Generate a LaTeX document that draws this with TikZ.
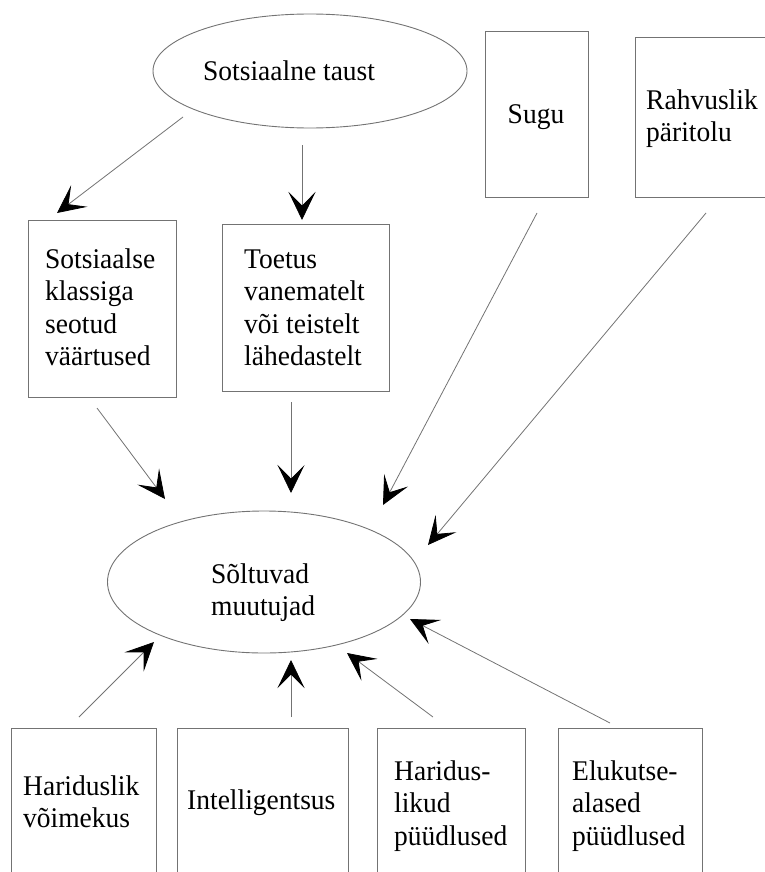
\documentclass[tikz,border=0pt]{standalone}
\usepackage{fontspec}
\setmainfont{Liberation Serif}[FakeStretch=0.965]
\usetikzlibrary{arrows.meta,shapes.geometric}
\tikzset{
  edge/.style={draw=black!55, line width=0.9pt},
  oval/.style={ellipse, edge, inner sep=0pt},
  box/.style={rectangle, edge, inner sep=0pt},
  txt/.style={inner sep=0pt, align=left, font=\fontsize{28.5}{32.5}\selectfont},
  conn/.style={draw=black!55, line width=0.8pt, -{Stealth[length=28pt, width=27pt, inset=13.5pt, black]}}
}
\begin{document}
\begin{tikzpicture}[x=1pt,y=-1pt]
\path[use as bounding box] (0,0) rectangle (765,872);
\clip (0,0) rectangle (765,872);
% shapes
\node[oval, minimum width=314pt, minimum height=114pt] (top) at (310,71) {};
\node[oval, minimum width=313pt, minimum height=142pt] (dep) at (264,582) {};
\node[box, minimum width=103pt, minimum height=166pt] (sugu) at (536.5,114) {};
\node[box, minimum width=175pt, minimum height=160pt] (rahv) at (722.5,117) {};
\node[box, minimum width=148pt, minimum height=177pt] (sots) at (102,308.5) {};
\node[box, minimum width=167pt, minimum height=167pt] (toet) at (305.5,307.5) {};
\node[box, minimum width=145pt, minimum height=172pt] (har) at (83.5,814) {};
\node[box, minimum width=171pt, minimum height=172pt] (int) at (262.5,814) {};
\node[box, minimum width=148pt, minimum height=172pt] (hp) at (451,814) {};
\node[box, minimum width=144pt, minimum height=172pt] (el) at (630,814) {};
% texts
\node[txt, anchor=base west] (ttop) at (203,81) {Sotsiaalne taust};
\node[txt, anchor=base] (tsugu) at (536,124) {Sugu};
\node[txt, anchor=north west] (trahv) at (646,86.25) {\strut Rahvuslik\\päritolu};
\node[txt, anchor=north west] (tsots) at (45,245.25) {\strut Sotsiaalse\\klassiga\\seotud\\väärtused};
\node[txt, anchor=north west] (ttoet) at (244,245.25) {\strut Toetus\\vanematelt\\või teistelt\\lähedastelt};
\node[txt, anchor=north west] (tdep) at (211,560.25) {\strut Sõltuvad\\muutujad};
\node[txt, anchor=north west] (thar) at (23,772.25) {\strut Hariduslik\\võimekus};
\node[txt, anchor=base west] (tint) at (187,809) {Intelligentsus};
\node[txt, anchor=north west] (thp) at (394,757.25) {\strut Haridus-\\likud\\püüdlused};
\node[txt, anchor=north west] (tel) at (572,757.25) {\strut Elukutse-\\alased\\püüdlused};
% connector end points
\coordinate (a1) at (183,117); \coordinate (b1) at (57,213);
\coordinate (a2) at (302,145); \coordinate (b2) at (302,220);
\coordinate (a3) at (537,213); \coordinate (b3) at (383,505);
\coordinate (a4) at (706,213); \coordinate (b4) at (428,545);
\coordinate (a5) at (97,408);  \coordinate (b5) at (165,499);
\coordinate (a6) at (291,402); \coordinate (b6) at (291,493);
\coordinate (a7) at (79,717);  \coordinate (b7) at (154,642);
\coordinate (a8) at (291,717); \coordinate (b8) at (291,660);
\coordinate (a9) at (433,717); \coordinate (b9) at (347,653);
\coordinate (a10) at (610,723); \coordinate (b10) at (410,619);
\foreach \i in {1,...,10} {\draw[conn] (a\i) -- (b\i);}
\end{tikzpicture}
\end{document}
